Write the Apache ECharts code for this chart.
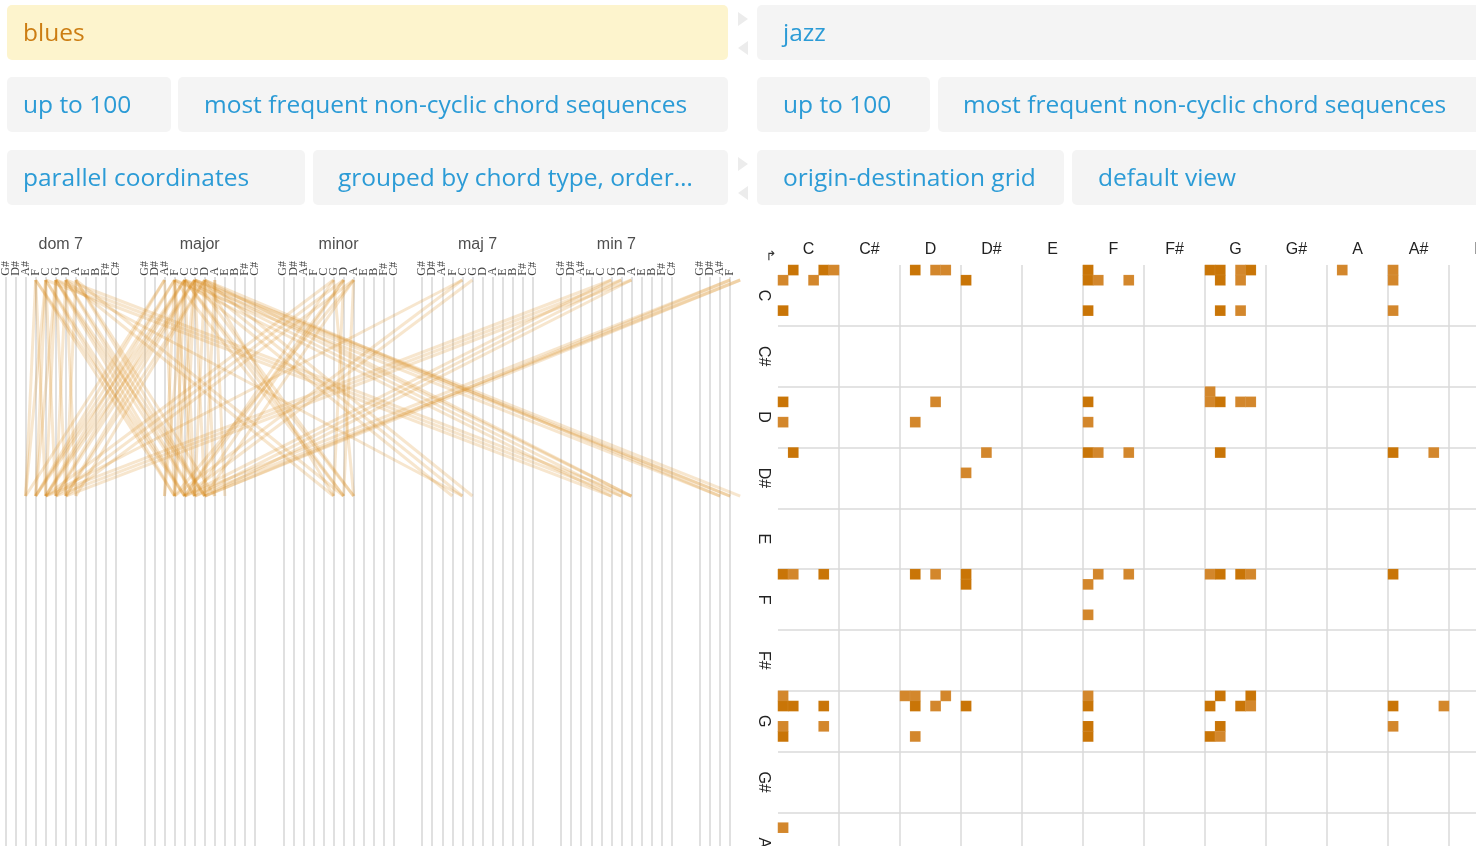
<!DOCTYPE html>
<html><head><meta charset="utf-8">
<script src="https://cdn.jsdelivr.net/npm/echarts@6/dist/echarts.min.js"></script>
<style>html,body{margin:0;padding:0;background:#fff;overflow:hidden}#c{width:1476px;height:846px;}</style>
</head><body><div id="c"></div>
<script>
// ---------------- data ----------------
const chordTypes = ['dom 7', 'major', 'minor', 'maj 7', 'min 7', 'min 7\u266d5'];
const parRoots = ['G#', 'D#', 'A#', 'F', 'C', 'G', 'D', 'A', 'E', 'B', 'F#', 'C#'];
const gridRoots = ['C', 'C#', 'D', 'D#', 'E', 'F', 'F#', 'G', 'G#', 'A', 'A#', 'B'];

// blues: most frequent non-cyclic chord sequences [from type, from root, to type, to root]
const bluesSequences = [
  ['dom 7','C','dom 7','F'], ['dom 7','F','dom 7','C'], ['dom 7','G','dom 7','F'], ['dom 7','G','dom 7','C'],
  ['dom 7','C','dom 7','G'], ['dom 7','D','dom 7','G'], ['dom 7','A','dom 7','D'], ['dom 7','D','dom 7','A'],
  ['dom 7','G','dom 7','D'], ['dom 7','C','dom 7','A#'], ['dom 7','F','dom 7','A#'],
  ['dom 7','C','major','F'], ['dom 7','G','major','C'], ['dom 7','D','major','G'], ['dom 7','A','major','D'],
  ['dom 7','C','major','C'], ['dom 7','G','major','G'], ['dom 7','F','major','C'], ['dom 7','D','major','D'],
  ['dom 7','A','major','A'], ['dom 7','F','major','F'], ['dom 7','G','major','D'],
  ['major','C','dom 7','C'], ['major','F','dom 7','F'], ['major','G','dom 7','G'], ['major','D','dom 7','D'],
  ['major','A#','dom 7','A#'], ['major','C','dom 7','G'], ['major','G','dom 7','D'], ['major','D','dom 7','A'],
  ['major','F','dom 7','C'], ['major','A#','dom 7','F'], ['major','G','dom 7','C'], ['major','C','dom 7','F'],
  ['major','C','major','F'], ['major','F','major','C'], ['major','G','major','C'], ['major','C','major','G'],
  ['major','D','major','G'], ['major','G','major','D'], ['major','A#','major','F'], ['major','F','major','A#'],
  ['major','A','major','D'], ['major','D','major','A'], ['major','G','major','F'], ['major','F','major','G'],
  ['major','C','major','A#'], ['major','A','major','E'],
  ['major','C','minor','A'], ['major','F','minor','D'], ['major','G','minor','A'], ['major','C','minor','D'],
  ['major','D','minor','G'],
  ['minor','A','major','F'], ['minor','D','major','G'], ['minor','G','major','C'], ['minor','A','major','D'],
  ['minor','D','major','C'],
  ['minor','A','minor','D'], ['minor','D','minor','G'], ['minor','G','minor','A'],
  ['minor','G','dom 7','C'], ['minor','D','dom 7','G'], ['minor','A','dom 7','D'],
  ['dom 7','D','minor','G'], ['dom 7','A','minor','D'],
  ['major','C','maj 7','F'], ['major','G','maj 7','C'], ['dom 7','G','maj 7','C'], ['major','D','maj 7','G'],
  ['maj 7','C','major','F'], ['maj 7','G','major','C'], ['maj 7','C','dom 7','C'],
  ['major','C','min 7','D'], ['major','F','min 7','G'], ['major','G','min 7','A'], ['dom 7','C','min 7','G'],
  ['dom 7','G','min 7','D'], ['dom 7','D','min 7','A'], ['major','D','min 7','A'],
  ['min 7','D','major','G'], ['min 7','G','major','C'], ['min 7','A','major','D'], ['min 7','D','dom 7','G'],
  ['min 7','G','dom 7','C'], ['min 7','A','dom 7','D'],
  ['major','C','min 7\u266d5','F'], ['major','G','min 7\u266d5','C'], ['major','D','min 7\u266d5','A#'],
  ['major','F','min 7\u266d5','A#'], ['major','G','min 7\u266d5','F'],
  ['min 7\u266d5','C','major','G'], ['min 7\u266d5','F','major','C'], ['min 7\u266d5','F','major','D'],
  ['min 7\u266d5','C','major','D']
];

// jazz: origin-destination grid [origin root, origin type index, destination root, destination type index, weight]
const jazzCells = [
  ['C',0,'C',1,2],['C',1,'C',0,1],['C',1,'C',3,1],['C',0,'C',4,2],['C',0,'C',5,1],['C',4,'C',0,2],
  ['C',0,'D',1,2],['C',0,'D',3,1],['C',0,'D',4,1],['C',1,'D#',0,2],
  ['C',0,'F',0,2],['C',1,'F',0,2],['C',1,'F',1,1],['C',4,'F',0,2],['C',1,'F',4,1],
  ['C',0,'G',0,2],['C',0,'G',1,2],['C',1,'G',1,2],['C',0,'G',3,1],['C',0,'G',4,2],['C',1,'G',3,1],['C',4,'G',1,2],['C',4,'G',3,1],
  ['C',0,'A',1,1],['C',0,'A#',0,1],['C',1,'A#',0,1],['C',4,'A#',0,1],
  ['D',1,'C',0,2],['D',3,'C',0,1],['D',1,'D',3,1],['D',3,'D',1,1],['D',1,'F',0,2],['D',3,'F',0,1],
  ['D',0,'G',0,1],['D',1,'G',0,1],['D',1,'G',1,2],['D',1,'G',3,1],['D',1,'G',4,1],
  ['D#',0,'C',1,2],['D#',0,'D#',2,1],['D#',2,'D#',0,1],['D#',0,'F',0,2],['D#',0,'F',1,1],['D#',0,'F',4,1],
  ['D#',0,'G',1,2],['D#',0,'A#',0,2],['D#',0,'A#',4,1],
  ['F',0,'C',0,2],['F',0,'C',1,1],['F',0,'C',4,2],['F',0,'D',1,2],['F',0,'D',3,1],['F',0,'D#',0,2],['F',1,'D#',0,2],
  ['F',0,'F',1,1],['F',1,'F',0,1],['F',4,'F',0,1],['F',0,'F',4,1],['F',0,'G',0,1],['F',0,'G',1,2],['F',0,'G',3,2],
  ['F',0,'G',4,1],['F',0,'A#',0,2],
  ['G',0,'C',0,1],['G',1,'C',0,2],['G',1,'C',1,2],['G',1,'C',4,2],['G',3,'C',0,1],['G',4,'C',0,2],['G',3,'C',4,1],
  ['G',0,'D',0,1],['G',0,'D',1,1],['G',1,'D',1,2],['G',0,'D',4,1],['G',1,'D',3,1],['G',4,'D',1,1],['G',1,'D#',0,2],
  ['G',0,'F',0,1],['G',1,'F',0,2],['G',3,'F',0,2],['G',4,'F',0,2],
  ['G',0,'G',1,2],['G',1,'G',0,2],['G',1,'G',3,2],['G',0,'G',4,2],['G',1,'G',4,1],['G',3,'G',1,2],['G',4,'G',0,2],['G',4,'G',1,1],
  ['G',1,'A#',0,2],['G',3,'A#',0,1],['G',1,'A#',5,1],
  ['A',1,'C',0,1]
];

const menuLeft = [['blues'], ['up to 100', 'most frequent non-cyclic chord sequences'], ['parallel coordinates', 'grouped by chord type, order\u2026']];
const menuRight = [['jazz'], ['up to 100', 'most frequent non-cyclic chord sequences'], ['origin-destination grid', 'default view']];

// ---------------- layout ----------------
const GROUP_STRIDE = 13.82;         // column units per chord-type group
const X_MIN = -0.547, X_MAX = 73.08; // left panel x extent (column units)
const Y_MIN = -0.2315, Y_MAX = 2.62; // left panel y extent (rows)
const pos = (type, root) => chordTypes.indexOf(type) * GROUP_STRIDE + parRoots.indexOf(root);

const columnLines = [], rootLabels = [], groupLabels = [];
chordTypes.forEach((t, g) => {
  parRoots.forEach((r, i) => {
    const x = pos(t, r);
    if (x <= X_MAX - 0.2) {
      columnLines.push({ coords: [[x, -0.014], [x, Y_MAX]] });
      rootLabels.push({ value: [x, -0.02], name: r });
    }
  });
  const cx = g * GROUP_STRIDE + 5.5;
  if (cx + 2 < X_MAX) groupLabels.push({ value: [cx, -0.162], name: t });
});
const seqLines = bluesSequences.map(s => ({ coords: [[pos(s[0], s[1]), 0], [pos(s[2], s[3]), 1]] }));

const N = gridRoots.length * 6;
const idx = Array.from({ length: N }, (_, i) => String(i));
const heat = jazzCells.map(c => [gridRoots.indexOf(c[2]) * 6 + c[3], gridRoots.indexOf(c[0]) * 6 + c[1], c[4]]);

// menu graphics
const graphics = [];
function button(x, y, w, h, text, fill, color, tx) {
  graphics.push({ type: 'rect', shape: { x, y, width: w, height: h, r: 5 }, style: { fill }, silent: true });
  graphics.push({ type: 'text', x: tx, y: y + h / 2 + 2, style: { text, fill: color, font: '24.5px "Open Sans", sans-serif', textVerticalAlign: 'middle', textAlign: 'left' }, silent: true });
}
const ROWS = [[5, 55], [77, 55], [150, 55]];
button(7, ROWS[0][0], 721, ROWS[0][1], menuLeft[0][0], '#fdf4cd', '#cc7d12', 23);
button(7, ROWS[1][0], 164, ROWS[1][1], menuLeft[1][0], '#f4f4f4', '#2b9bd6', 23);
button(178, ROWS[1][0], 550, ROWS[1][1], menuLeft[1][1], '#f4f4f4', '#2b9bd6', 204);
button(7, ROWS[2][0], 298, ROWS[2][1], menuLeft[2][0], '#f4f4f4', '#2b9bd6', 23);
button(313, ROWS[2][0], 415, ROWS[2][1], menuLeft[2][1], '#f4f4f4', '#2b9bd6', 338);
button(757, ROWS[0][0], 730, ROWS[0][1], menuRight[0][0], '#f4f4f4', '#2b9bd6', 783);
button(757, ROWS[1][0], 173, ROWS[1][1], menuRight[1][0], '#f4f4f4', '#2b9bd6', 783);
button(938, ROWS[1][0], 549, ROWS[1][1], menuRight[1][1], '#f4f4f4', '#2b9bd6', 963);
button(757, ROWS[2][0], 307, ROWS[2][1], menuRight[2][0], '#f4f4f4', '#2b9bd6', 783);
button(1072, ROWS[2][0], 415, ROWS[2][1], menuRight[2][1], '#f4f4f4', '#2b9bd6', 1098);
[[12, 41], [157, 186]].forEach(([a, b]) => {
  graphics.push({ type: 'polygon', shape: { points: [[738, a], [748, a + 7], [738, a + 14]] }, style: { fill: '#ececec' }, silent: true });
  graphics.push({ type: 'polygon', shape: { points: [[748, b], [738, b + 7], [748, b + 14]] }, style: { fill: '#ececec' }, silent: true });
});
graphics.push({ type: 'text', x: 771, y: 257, style: { text: '\u21b1', fill: '#333', font: '13px "DejaVu Sans"', textAlign: 'center', textVerticalAlign: 'middle' }, silent: true });

const chart = echarts.init(document.getElementById('c'), null, { renderer: 'canvas' });
chart.setOption({
  animation: false,
  backgroundColor: '#fff',
  graphic: graphics,
  grid: [
    { left: 0, top: 230, width: 740, height: 616, outerBoundsMode: 'none', containLabel: false },
    { left: 778, top: 265, width: 732, height: 730, outerBoundsMode: 'none', containLabel: false }
  ],
  xAxis: [
    { type: 'value', gridIndex: 0, min: X_MIN, max: X_MAX, show: false },
    { type: 'category', gridIndex: 1, data: idx, axisLine: { show: false }, axisTick: { show: false }, axisLabel: { show: false },
      splitLine: { show: true, interval: (i) => i % 6 === 0 && i > 0, lineStyle: { color: '#dadada', width: 1.5 } } },
    { type: 'category', gridIndex: 1, position: 'top', data: gridRoots, axisLine: { show: false }, axisTick: { show: false },
      axisLabel: { interval: 0, color: '#222', fontSize: 16, fontFamily: 'Liberation Sans', margin: 7 } }
  ],
  yAxis: [
    { type: 'value', gridIndex: 0, min: Y_MIN, max: Y_MAX, inverse: true, show: false },
    { type: 'category', gridIndex: 1, inverse: true, data: idx, axisLine: { show: false }, axisTick: { show: false }, axisLabel: { show: false },
      splitLine: { show: true, interval: (i) => i % 6 === 0 && i > 0, lineStyle: { color: '#dadada', width: 1.5 } } },
    { type: 'category', gridIndex: 1, inverse: true, position: 'left', data: gridRoots, axisLine: { show: false }, axisTick: { show: false },
      axisLabel: { interval: 0, color: '#222', fontSize: 16, fontFamily: 'Liberation Sans', rotate: -90, margin: 7 } }
  ],
  visualMap: { type: 'piecewise', show: false, seriesIndex: 4, dimension: 2,
    pieces: [{ value: 1, color: '#d3872c' }, { value: 2, color: '#c97507' }] },
  series: [
    { type: 'lines', coordinateSystem: 'cartesian2d', xAxisIndex: 0, yAxisIndex: 0, silent: true, clip: true,
      data: columnLines, lineStyle: { color: '#d6d6d6', width: 1.5, opacity: 1 } },
    { type: 'lines', coordinateSystem: 'cartesian2d', xAxisIndex: 0, yAxisIndex: 0, silent: true, clip: true,
      data: seqLines, lineStyle: { color: '#d98c1e', width: 3, opacity: 0.22 } },
    { type: 'scatter', xAxisIndex: 0, yAxisIndex: 0, symbolSize: 0, silent: true, clip: false, data: rootLabels,
      label: { show: true, position: [0, 0], rotate: 90, align: 'left', verticalAlign: 'middle', formatter: p => p.name,
        color: '#111', fontSize: 12, fontFamily: 'Liberation Serif' } },
    { type: 'scatter', xAxisIndex: 0, yAxisIndex: 0, symbolSize: 0, silent: true, clip: false, data: groupLabels,
      label: { show: true, position: [0, 0], align: 'center', verticalAlign: 'middle', formatter: p => p.name,
        color: '#222', fontSize: 16, fontFamily: 'Liberation Sans' } },
    { type: 'heatmap', xAxisIndex: 1, yAxisIndex: 1, data: heat, silent: true,
      itemStyle: { borderColor: 'rgba(255,255,255,0.25)', borderWidth: 0.3 } }
  ]
});
</script></body></html>
